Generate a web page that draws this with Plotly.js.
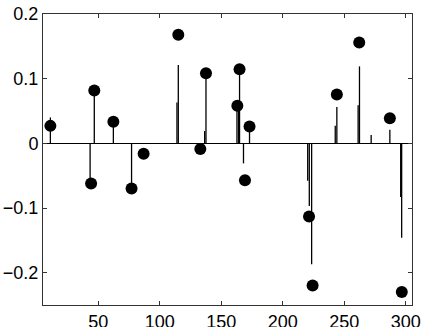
<!DOCTYPE html>
<html>
<head>
<meta charset="utf-8">
<script src="https://cdn.plot.ly/plotly-3.0.1.min.js"></script>
<style>
  html, body { margin: 0; padding: 0; background: #fff; }
  #plot { width: 427px; height: 327px; }
</style>
</head>
<body>
<div id="plot"></div>
<script>
"use strict";

// Stems: true coefficients (vertical lines from the baseline)
const stemX = [11, 43.3, 46.7, 62.2, 77, 113.9, 115, 136.4, 137.5, 162.7, 164, 164.8,
               168, 172.9, 220.2, 221.5, 223.4, 242.6, 243.9, 261.2, 262.3, 271.8,
               287, 295.8, 296.6];
const stemY = [0.040, -0.056, 0.076, 0.030, -0.064, 0.063, 0.121, 0.019, 0.104, 0.056, 0.056, 0.110,
               -0.031, 0.022, -0.058, -0.097, -0.187, 0.027, 0.056, 0.059, 0.119, 0.013,
               0.021, -0.083, -0.146];

// Dots: estimated values
const dotX = [11, 44.1, 46.7, 62.2, 77, 86.8, 115, 132.9, 137.5, 163, 164.8, 169.2,
              172.9, 221.3, 224.2, 243.9, 262.1, 287, 296.7];
const dotY = [0.027, -0.062, 0.0816, 0.0335, -0.070, -0.016, 0.168, -0.0086, 0.1085, 0.058, 0.1147, -0.057,
              0.026, -0.113, -0.220, 0.0755, 0.156, 0.0387, -0.230];

const xTicks = [50, 100, 150, 200, 250, 300];
const yTicks = [-0.2, -0.1, 0, 0.1, 0.2];
const yTickText = ["\u22120.2", "\u22120.1", "0", "0.1", "0.2"];

// stem segments separated by nulls
const sx = [], sy = [];
stemX.forEach((x, i) => { sx.push(x, x, null); sy.push(0, stemY[i], null); });

const traces = [
    { x: sx, y: sy, type: "scatter", mode: "lines",
      line: { color: "#000", width: 1.3 }, hoverinfo: "skip", showlegend: false },
    { x: dotX, y: dotY, type: "scatter", mode: "markers",
      marker: { color: "#000", size: 12 }, showlegend: false },
];

const axisCommon = {
    showline: true, linecolor: "#333", linewidth: 1, mirror: "ticks",
    ticks: "inside", ticklen: 4, tickcolor: "#333", tickwidth: 1,
    showgrid: false,
    tickfont: { family: "Liberation Sans, Arial, sans-serif", size: 18, color: "#000" },
};

const layout = {
    width: 427, height: 327,
    margin: { l: 43, r: 15, t: 14, b: 22 },
    paper_bgcolor: "#fff", plot_bgcolor: "#fff",
    showlegend: false,
    xaxis: Object.assign({}, axisCommon, {
        range: [5, 305], tickvals: xTicks, zeroline: false, ticklabelstandoff: 0,
    }),
    yaxis: Object.assign({}, axisCommon, {
        range: [-0.25, 0.2], tickvals: yTicks, ticktext: yTickText,
        zeroline: true, zerolinecolor: "#000", zerolinewidth: 1.6,
    }),
};

Plotly.newPlot("plot", traces, layout, { staticPlot: true, displayModeBar: false });
</script>
</body>
</html>
